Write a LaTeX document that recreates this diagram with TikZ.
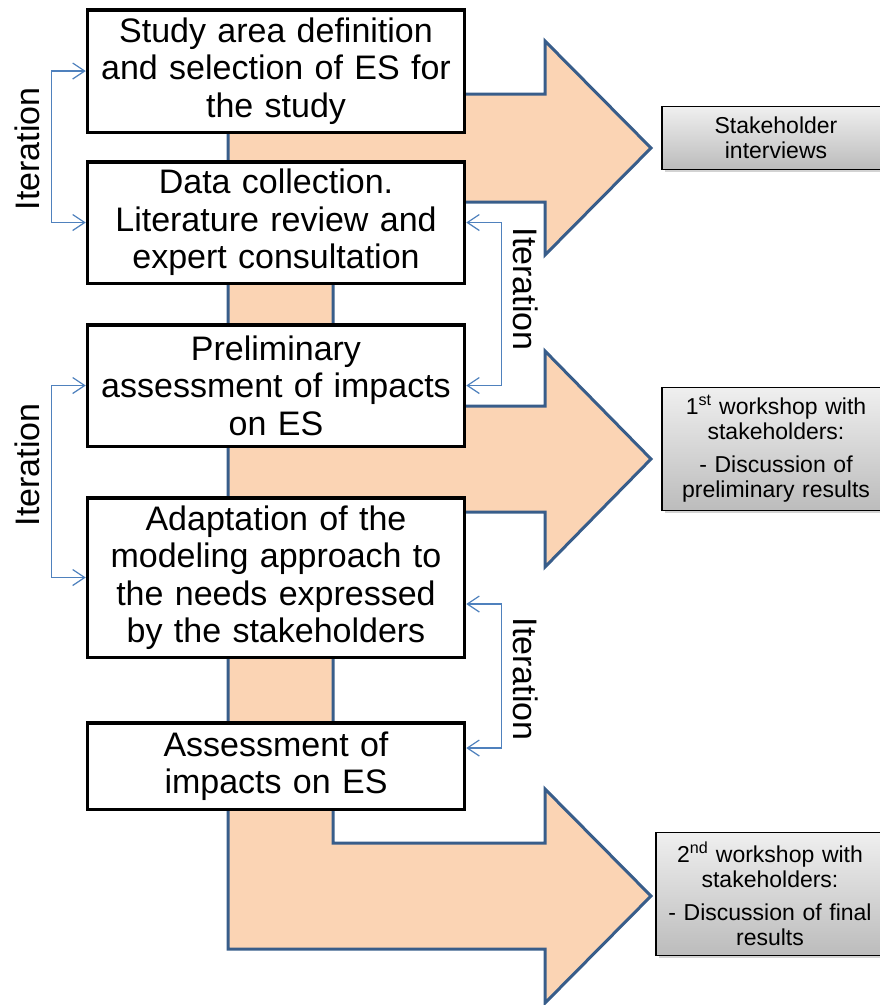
\documentclass[tikz,border=0pt]{standalone}
\usepackage{fontspec}
\setmainfont{Liberation Sans}
\usetikzlibrary{arrows.meta,shadows,calc}
\definecolor{arrowfill}{HTML}{FBD4B4}
\definecolor{arrowline}{HTML}{385D8A}
\definecolor{iterblue}{HTML}{4F81BD}
\definecolor{gtop}{HTML}{EFEFEF}
\definecolor{gbot}{HTML}{BCBCBC}
\begin{document}
\begin{tikzpicture}[x=1pt,y=-1pt,
  bigarrow/.style={fill=arrowfill,draw=arrowline,line width=3pt,line join=miter},
  stepbox/.style={draw=black,fill=white,line width=3.5pt,inner sep=0pt,minimum width=377pt,text width=377pt,align=center,font=\fontsize{34}{37.5}\selectfont},
  sidebox/.style={draw=black,line width=1.3pt,top color=gtop,bottom color=gbot,inner sep=0pt,minimum width=228pt,text width=228pt,align=center,font=\fontsize{23}{25}\selectfont,drop shadow={shadow xshift=2.5pt,shadow yshift=-3pt,opacity=0.35}},
  iter/.style={draw=iterblue,line width=1.2pt,{Straight Barb[length=12pt,width=16pt]}-{Straight Barb[length=12pt,width=16pt]}},
  iterlabel/.style={font=\fontsize{34}{37}\selectfont,inner sep=0pt}
]
\useasboundingbox (0,0) rectangle (880,1005);
\clip (0,0) rectangle (880,1005);

% orange bent arrows
\draw[bigarrow] (228,60) -- (333,60) -- (333,94) -- (545,94) -- (545,41) -- (651,148) -- (545,255) -- (545,202) -- (228,202) -- cycle;
\draw[bigarrow] (228,230) -- (333,230) -- (333,406) -- (545,406) -- (545,351) -- (651,459) -- (545,567) -- (545,512) -- (228,512) -- cycle;
\draw[bigarrow] (228,600) -- (333,600) -- (333,843) -- (545,843) -- (545,789) -- (651,896) -- (545,1003) -- (545,949) -- (228,949) -- cycle;

% step boxes
\node[stepbox,minimum height=122.5pt] (b1) at (276,71) {Study area definition\\and selection of ES for\\the study};
\node[stepbox,minimum height=121.5pt] (b2) at (276,222.5) {Data collection.\\Literature review and\\expert consultation};
\node[stepbox,minimum height=121.5pt] (b3) at (276,385.5) {Preliminary\\assessment of impacts\\on ES};
\node[stepbox,minimum height=159.5pt] (b4) at (276,577.5) {Adaptation of the\\modeling approach to\\the needs expressed\\by the stakeholders};
\node[stepbox,minimum height=86.5pt] (b5) at (276,766) {Assessment of\\impacts on ES};

% side boxes
\node[sidebox,minimum height=62.5pt] (s1) at (776,138) {Stakeholder\\interviews};
\node[sidebox,minimum height=122.5pt] (s2) at (776,449) {1\textsuperscript{st} workshop with\\stakeholders:\\[8pt]- Discussion of\\preliminary results};
\node[sidebox,minimum height=122.5pt] (s3) at (770,894) {2\textsuperscript{nd} workshop with\\stakeholders:\\[8pt]- Discussion of final\\results};

% iteration connectors
\draw[iter] (b1.west) -- ++(-34,0) |- (b2.west);
\draw[iter] (b3.west) -- ++(-34,0) |- (b4.west);
\draw[iter] (b2.east) -- ++(35,0) |- (b3.east);
\draw[iter] ([yshift=-26.5pt]b4.east) -- ++(35,0) |- ([yshift=18pt]b5.east);

% iteration labels
\node[iterlabel,rotate=90] (l1) at (27,149) {Iteration};
\node[iterlabel,rotate=90] (l2) at (27,465) {Iteration};
\node[iterlabel,rotate=-90] (l3) at (525.5,289) {Iteration};
\node[iterlabel,rotate=-90] (l4) at (525.5,679) {Iteration};
\end{tikzpicture}
\end{document}
